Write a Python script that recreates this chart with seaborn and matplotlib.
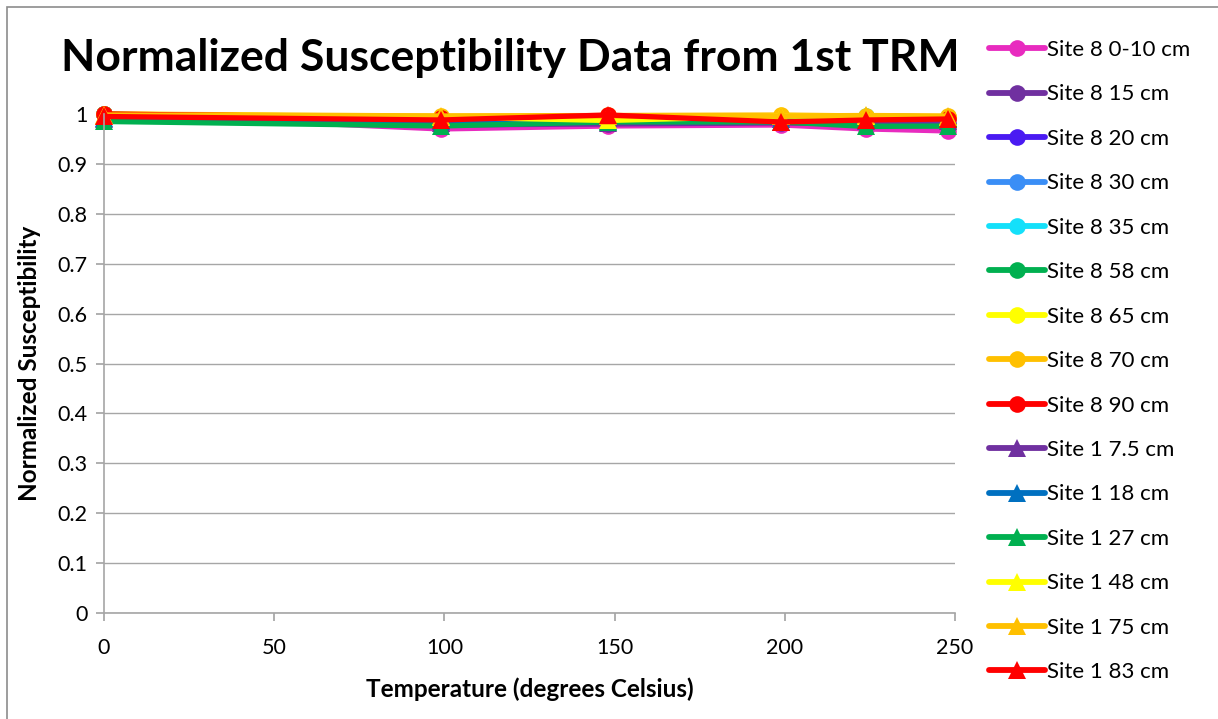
import matplotlib
matplotlib.use("Agg")
import matplotlib.pyplot as plt
import seaborn as sns
import pandas as pd
from matplotlib.lines import Line2D
from matplotlib.patches import Rectangle

temps = [0, 99, 148, 199, 224, 248]

labels = ["Site 8 0-10 cm", "Site 8 15 cm", "Site 8 20 cm", "Site 8 30 cm", "Site 8 35 cm",
          "Site 8 58 cm", "Site 8 65 cm", "Site 8 70 cm", "Site 8 90 cm",
          "Site 1 7.5 cm", "Site 1 18 cm", "Site 1 27 cm", "Site 1 48 cm", "Site 1 75 cm", "Site 1 83 cm"]

s8_0_10 = [1.000, 0.970, 0.976, 0.978, 0.970, 0.966]
s8_15 = [1.000, 0.978, 0.980, 0.982, 0.980, 0.978]
s8_20 = [1.000, 0.980, 0.982, 0.984, 0.982, 0.980]
s8_30 = [1.000, 0.985, 0.986, 0.992, 0.994, 0.992]
s8_35 = [1.000, 0.987, 0.988, 0.994, 0.996, 0.994]
s8_58 = [1.000, 0.978, 0.984, 0.985, 0.978, 0.976]
s8_65 = [1.000, 0.994, 0.992, 0.996, 0.994, 0.993]
s8_70 = [1.000, 0.996, 0.997, 0.998, 0.996, 0.995]
s8_90 = [1.000, 0.992, 0.997, 0.986, 0.988, 0.990]
s1_7_5 = [0.990, 0.982, 0.981, 0.984, 0.986, 0.985]
s1_18 = [0.992, 0.985, 0.985, 0.990, 0.996, 0.994]
s1_27 = [0.985, 0.976, 0.984, 0.984, 0.975, 0.976]
s1_48 = [0.996, 0.994, 0.987, 0.996, 0.995, 0.994]
s1_75 = [0.998, 0.996, 0.996, 0.996, 0.997, 0.996]
s1_83 = [0.995, 0.988, 0.998, 0.984, 0.988, 0.990]

series = [s8_0_10, s8_15, s8_20, s8_30, s8_35, s8_58, s8_65, s8_70, s8_90,
          s1_7_5, s1_18, s1_27, s1_48, s1_75, s1_83]

colors = ["#E82BBF", "#7030A0", "#4A1AF2", "#3A8EF6", "#14E0FA", "#00B050", "#FFFF00", "#FFC000", "#FF0000",
          "#7030A0", "#0070C0", "#00B050", "#FFFF00", "#FFC000", "#FF0000"]
markers = ["o"] * 9 + ["^"] * 6

xticks = [0, 50, 100, 150, 200, 250]
yticks = [0, 0.1, 0.2, 0.3, 0.4, 0.5, 0.6, 0.7, 0.8, 0.9, 1]
ytick_labels = ["0", "0.1", "0.2", "0.3", "0.4", "0.5", "0.6", "0.7", "0.8", "0.9", "1"]

sns.set_theme(style="white", rc={"text.color": "black", "axes.labelcolor": "black",
                                 "xtick.color": "black", "ytick.color": "black"})
plt.rcParams["font.family"] = ["Lato", "DejaVu Sans"]

fig = plt.figure(figsize=(12.18, 7.19), dpi=100)
ax = fig.add_axes([104 / 1218, 1 - 613 / 719, (955 - 104) / 1218, (613 - 114) / 719])

for lab, vals, c, m in zip(labels, series, colors, markers):
    df = pd.DataFrame({"T": temps, "S": vals})
    sns.lineplot(data=df, x="T", y="S", ax=ax, color=c, linewidth=3.8, marker=m,
                 markersize=12 if m == "o" else 13, markeredgewidth=0, clip_on=False, legend=False)

ax.set_xlim(0, 250)
ax.set_ylim(0, 1)
ax.set_xticks(xticks)
ax.set_xticklabels([str(t) for t in xticks], fontsize=15.5)
ax.set_yticks(yticks)
ax.set_yticklabels(ytick_labels, fontsize=15.5)
ax.yaxis.grid(True, color="#A6A6A6", linewidth=1)
ax.xaxis.grid(False)
for side in ["top", "right"]:
    ax.spines[side].set_visible(False)
for side in ["left", "bottom"]:
    ax.spines[side].set_color("#A6A6A6")
    ax.spines[side].set_linewidth(1.2)
ax.tick_params(axis="x", which="major", bottom=True, length=6, color="#A6A6A6", labelcolor="black", pad=12)
ax.tick_params(axis="y", which="major", left=True, length=6, color="#A6A6A6", labelcolor="black", pad=6)

ax.set_xlabel("Temperature (degrees Celsius)", fontsize=17.5, fontweight="bold", labelpad=14, color="black")
ax.set_ylabel("Normalized Susceptibility", fontsize=17.5, fontweight="bold", color="black")
ax.yaxis.set_label_coords(-(104 - 41) / 851, 0.5)
fig.text(510 / 1218, 1 - 58 / 719, "Normalized Susceptibility Data from 1st TRM",
         fontsize=32, fontweight="bold", ha="center", va="center", color="black")

handles = [Line2D([0], [0], color=c, linewidth=4.2, marker=m, markersize=12 if m == "o" else 13,
                  markeredgewidth=0) for c, m in zip(colors, markers)]
leg = fig.legend(handles, labels, loc="upper left", bbox_to_anchor=(989 / 1218, 1 - 40 / 719),
                 frameon=False, fontsize=16, handlelength=2.5, handletextpad=0.12,
                 labelspacing=1.1, borderaxespad=0, borderpad=0, labelcolor="black")

fig.patches.append(Rectangle((7 / 1218, -0.01), 1.2, 1 - 7 / 719 + 0.01, transform=fig.transFigure,
                             fill=False, edgecolor="#8C8C8C", linewidth=1.2))

fig.savefig("out.png", dpi=100)
